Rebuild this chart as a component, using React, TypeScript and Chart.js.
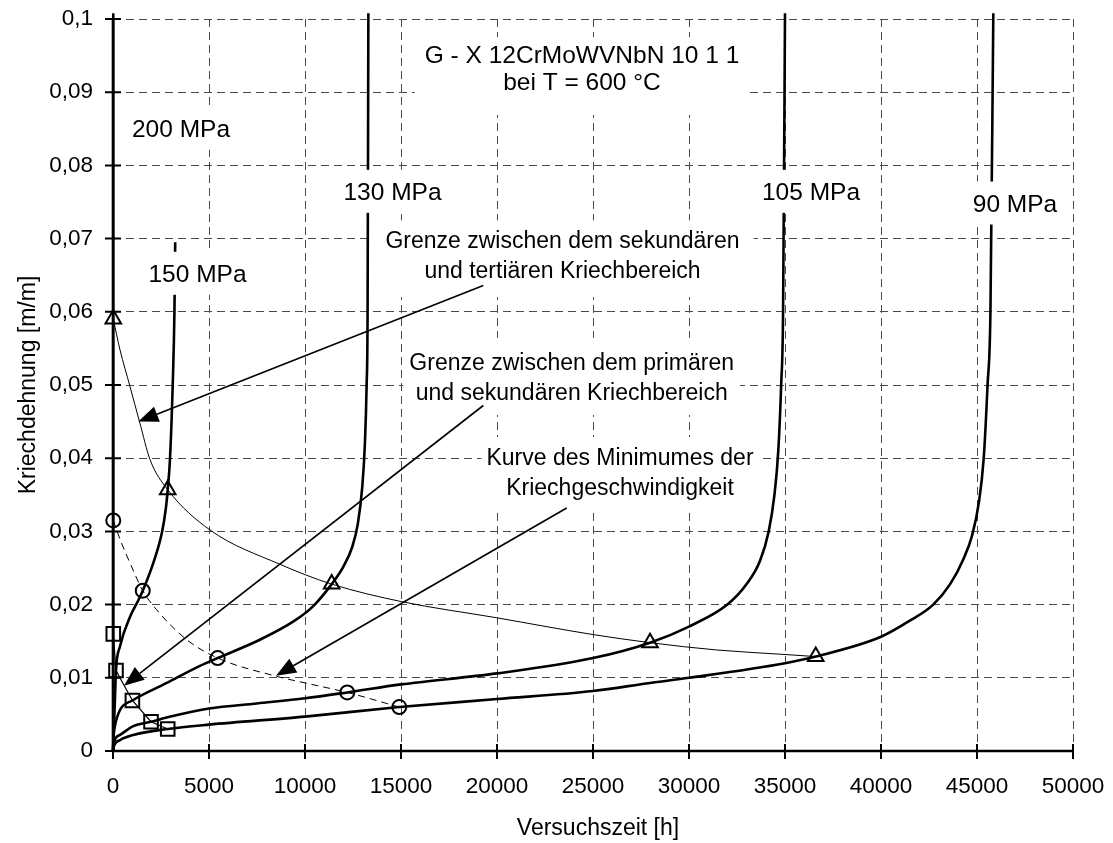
import { useEffect, useRef } from 'react';
import { Chart, registerables } from 'chart.js';

Chart.register(...registerables);

const FONT_FAMILY = '"Liberation Sans", Arial, Helvetica, sans-serif';

// ---- Axis ticks -------------------------------------------------------------
const timeTicks = [0, 5000, 10000, 15000, 20000, 25000, 30000, 35000, 40000, 45000, 50000];
const timeTickLabels = ['0', '5000', '10000', '15000', '20000', '25000', '30000', '35000', '40000', '45000', '50000'];
const strainTicks = [0, 0.01, 0.02, 0.03, 0.04, 0.05, 0.06, 0.07, 0.08, 0.09, 0.1];
const strainTickLabels = ['0', '0,01', '0,02', '0,03', '0,04', '0,05', '0,06', '0,07', '0,08', '0,09', '0,1'];

// ---- Creep curves: test time [h] vs. creep strain [m/m] ---------------------
const time200 = [0, 10, 15, 15, 15, 15];
const strain200 = [0, 0.007, 0.016, 0.0315, 0.059, 0.1008];

const time150 = [0, 50, 100, 156, 365, 900, 1320, 1550, 2100, 2560, 2760, 2850, 2970, 3110, 3200, 3240];
const strain150 = [0, 0.0034, 0.007, 0.011, 0.0143, 0.0184, 0.0206, 0.0219, 0.0257, 0.03, 0.0333, 0.0357, 0.04, 0.05, 0.06, 0.0695];

const time130 = [0, 30, 100, 365, 1010, 2800, 4500, 5450, 7650, 9400, 10430, 11390, 12000, 12450, 12750, 12980, 13120, 13210, 13260, 13300];
const strain130 = [0, 0.002, 0.0034, 0.0056, 0.0069, 0.0093, 0.0116, 0.0127, 0.0152, 0.0177, 0.0198, 0.0228, 0.0252, 0.0278, 0.031, 0.036, 0.042, 0.05, 0.06, 0.1008];

const time105 = [0, 50, 365, 1060, 1980, 3000, 5000, 7500, 10000, 12200, 15000, 20000, 25000, 27970, 30000, 32000, 33000, 33700, 34150, 34450, 34650, 34800, 34900, 35000];
const strain105 = [0, 0.0012, 0.0022, 0.0034, 0.004, 0.0047, 0.0058, 0.0065, 0.0072, 0.008, 0.0091, 0.0106, 0.0127, 0.0148, 0.017, 0.02, 0.0228, 0.026, 0.03, 0.035, 0.041, 0.05, 0.06, 0.1008];

const time90 = [0, 50, 365, 1060, 2850, 5000, 10000, 14910, 20000, 25000, 27970, 30000, 35000, 36600, 40000, 41500, 42720, 43600, 44290, 44750, 45100, 45350, 45550, 45700, 45850];
const strain90 = [0, 0.0007, 0.0015, 0.0022, 0.003, 0.0036, 0.0047, 0.006, 0.0071, 0.0082, 0.0093, 0.01, 0.012, 0.0129, 0.0156, 0.0178, 0.02, 0.0228, 0.0262, 0.0295, 0.034, 0.04, 0.05, 0.06, 0.1008];

// ---- Range boundaries ---------------------------------------------------------
// end of primary creep (squares)
const primaryEndTime = [15, 156, 1010, 1980, 2850];
const primaryEndStrain = [0.016, 0.011, 0.0069, 0.004, 0.003];

// minimum creep rate (circles)
const minRateTime = [15, 1550, 5450, 12200, 14910];
const minRateStrain = [0.0315, 0.0219, 0.0127, 0.008, 0.006];
const minRatePathTime = [15, 400, 950, 1550, 2270, 3840, 5450, 8520, 10000, 12200, 14910];
const minRatePathStrain = [0.0315, 0.0287, 0.0253, 0.0219, 0.0193, 0.0152, 0.0127, 0.0102, 0.0093, 0.008, 0.006];

// start of tertiary creep (triangles)
const tertiaryStartTime = [15, 2850, 11390, 27970, 36600];
const tertiaryStartStrain = [0.059, 0.0357, 0.0228, 0.0148, 0.0129];
const tertiaryPathTime = [15, 365, 885, 1400, 1930, 2850, 5050, 8700, 11390, 15040, 19980, 25020, 27970, 31440, 34900, 36600];
const tertiaryPathStrain = [0.059, 0.0548, 0.0498, 0.0448, 0.0398, 0.0357, 0.0302, 0.0255, 0.0228, 0.0204, 0.0182, 0.0159, 0.0148, 0.0138, 0.0132, 0.0129];

// ---- Text -------------------------------------------------------------------
const stressLabels = ['200 MPa', '150 MPa', '130 MPa', '105 MPa', '90 MPa'];
const titleLines = ['G - X 12CrMoWVNbN 10 1 1', 'bei T = 600 °C'];
const tertiaryNote = ['Grenze zwischen dem sekundären', 'und tertiären Kriechbereich'];
const primaryNote = ['Grenze zwischen dem primären', 'und sekundären Kriechbereich'];
const minRateNote = ['Kurve des Minimumes der', 'Kriechgeschwindigkeit'];
const xTitle = 'Versuchszeit [h]';
const yTitle = 'Kriechdehnung [m/m]';

// ---- Placement of text boxes and arrows (data coordinates + pixel padding) --
type TextBox = {
  lines: string[];
  t: number;
  e: number;
  size: number;
  gap: number;
  padX: number;
  padTop: number;
  padBottom: number;
};

const stressLabelAnchors: [number, number][] = [
  [3542, 0.0839],
  [4401, 0.0641],
  [14557, 0.0753],
  [36354, 0.0753],
  [46979, 0.0737],
];

const textBoxes: TextBox[] = [
  ...stressLabels.map((s, i) => ({
    lines: [s],
    t: stressLabelAnchors[i][0],
    e: stressLabelAnchors[i][1],
    size: 24.5,
    gap: 0,
    padX: 4,
    padTop: 30,
    padBottom: 13,
  })),
  { lines: titleLines, t: 24427, e: 0.09395, size: 24.5, gap: 26.7, padX: 10, padTop: 26, padBottom: 25 },
  { lines: tertiaryNote, t: 23411, e: 0.06867, size: 23, gap: 29.7, padX: 14, padTop: 28, padBottom: 19 },
  { lines: primaryNote, t: 23891, e: 0.05205, size: 23, gap: 30, padX: 6, padTop: 32, padBottom: 15 },
  { lines: minRateNote, t: 26406, e: 0.03907, size: 23, gap: 30, padX: 5, padTop: 28, padBottom: 15 },
];

// [fromTime, fromStrain, toTime, toStrain]
const arrows: [number, number, number, number][] = [
  [19286, 0.0636, 1318, 0.045],
  [19286, 0.0472, 573, 0.00892],
  [23630, 0.0332, 8490, 0.01029],
];

const zip = (xs: number[], ys: number[]) => xs.map((x, i) => ({ x, y: ys[i] }));

function drawArrow(ctx: CanvasRenderingContext2D, x1: number, y1: number, x2: number, y2: number) {
  const ang = Math.atan2(y2 - y1, x2 - x1);
  const headLen = 20;
  const headHalf = 8;
  const bx = x2 - headLen * Math.cos(ang);
  const by = y2 - headLen * Math.sin(ang);
  ctx.beginPath();
  ctx.moveTo(x1, y1);
  ctx.lineTo(bx, by);
  ctx.stroke();
  ctx.beginPath();
  ctx.moveTo(x2, y2);
  ctx.lineTo(bx + headHalf * Math.sin(ang), by - headHalf * Math.cos(ang));
  ctx.lineTo(bx - headHalf * Math.sin(ang), by + headHalf * Math.cos(ang));
  ctx.closePath();
  ctx.fill();
}

const overlayPlugin = {
  id: 'creepOverlay',
  afterDatasetsDraw(chart: any) {
    const { ctx, chartArea } = chart;
    const xs = chart.scales.x;
    const ys = chart.scales.y;
    ctx.save();

    // white text boxes with labels
    for (const box of textBoxes) {
      ctx.font = `${box.size}px ${FONT_FAMILY}`;
      const cx = xs.getPixelForValue(box.t);
      const by = ys.getPixelForValue(box.e);
      const w = Math.max(...box.lines.map((s) => ctx.measureText(s).width));
      const top = by - box.padTop;
      const bottom = by + (box.lines.length - 1) * box.gap + box.padBottom;
      ctx.fillStyle = '#fff';
      ctx.fillRect(cx - w / 2 - box.padX, top, w + 2 * box.padX, bottom - top);
      ctx.fillStyle = '#000';
      ctx.textAlign = 'center';
      ctx.textBaseline = 'alphabetic';
      box.lines.forEach((s, i) => ctx.fillText(s, cx, by + i * box.gap));
    }

    // pointer arrows
    ctx.strokeStyle = '#000';
    ctx.fillStyle = '#000';
    ctx.lineWidth = 1.6;
    for (const [t1, e1, t2, e2] of arrows) {
      drawArrow(ctx, xs.getPixelForValue(t1), ys.getPixelForValue(e1), xs.getPixelForValue(t2), ys.getPixelForValue(e2));
    }

    // axes with tick marks crossing them
    const { left, right, top, bottom } = chartArea;
    ctx.lineWidth = 2.6;
    ctx.lineCap = 'butt';
    ctx.beginPath();
    ctx.moveTo(left, bottom + 1.3);
    ctx.lineTo(left, top);
    ctx.moveTo(left - 1.3, bottom);
    ctx.lineTo(right, bottom);
    ctx.stroke();
    ctx.lineWidth = 2;
    ctx.beginPath();
    for (const v of strainTicks) {
      const py = ys.getPixelForValue(v);
      ctx.moveTo(left - 8, py);
      ctx.lineTo(left + 8, py);
    }
    for (const v of timeTicks) {
      const px = xs.getPixelForValue(v);
      ctx.moveTo(px, bottom - 7);
      ctx.lineTo(px, bottom + 8);
    }
    ctx.stroke();

    // axis titles
    ctx.fillStyle = '#000';
    ctx.font = `23px ${FONT_FAMILY}`;
    ctx.textAlign = 'center';
    ctx.textBaseline = 'alphabetic';
    ctx.fillText(xTitle, (left + right) / 2 + 5, 835);
    ctx.translate(35, (top + bottom) / 2);
    ctx.rotate(-Math.PI / 2);
    ctx.fillText(yTitle, 0, 0);
    ctx.restore();
  },
};

export default function App() {
  const canvasRef = useRef<HTMLCanvasElement>(null);

  useEffect(() => {
    const canvas = canvasRef.current;
    if (!canvas) return;

    const creep = (label: string, t: number[], e: number[], smooth = true) => ({
      label,
      data: zip(t, e),
      borderColor: '#000',
      borderWidth: 2.6,
      pointRadius: 0,
      fill: false,
      clip: false as const,
      tension: 0,
      cubicInterpolationMode: smooth ? ('monotone' as const) : ('default' as const),
      borderJoinStyle: 'round' as const,
    });

    const markers = (label: string, t: number[], e: number[], style: string, radius: number) => ({
      label,
      data: zip(t, e),
      showLine: false,
      pointStyle: style,
      pointRadius: radius,
      pointBorderWidth: 2,
      pointBorderColor: '#000',
      pointBackgroundColor: 'rgba(0,0,0,0)',
      clip: false as const,
    });

    const tickFont = { family: FONT_FAMILY, size: 22.5 };
    // invisible tick marks keep the labels away from the axes
    const gridX = { color: '#4a4a4a', lineWidth: 1, drawTicks: true, tickLength: 22, tickColor: 'rgba(0,0,0,0)' };
    const gridY = { color: '#4a4a4a', lineWidth: 1, drawTicks: true, tickLength: 20, tickColor: 'rgba(0,0,0,0)' };

    const chart = new Chart(canvas, {
      type: 'line',
      data: {
        datasets: [
          creep('200 MPa', time200, strain200, false),
          creep('150 MPa', time150, strain150),
          creep('130 MPa', time130, strain130),
          creep('105 MPa', time105, strain105),
          creep('90 MPa', time90, strain90),
          {
            label: 'tertiary boundary',
            data: zip(tertiaryPathTime, tertiaryPathStrain),
            borderColor: '#000',
            borderWidth: 1,
            pointRadius: 0,
            cubicInterpolationMode: 'monotone',
          },
          {
            label: 'minimum creep rate',
            data: zip(minRatePathTime, minRatePathStrain),
            borderColor: '#000',
            borderWidth: 1,
            borderDash: [7, 5],
            pointRadius: 0,
            cubicInterpolationMode: 'monotone',
          },
          {
            label: 'primary boundary',
            data: zip(primaryEndTime, primaryEndStrain),
            borderColor: '#000',
            borderWidth: 1.2,
            pointRadius: 0,
            tension: 0,
          },
          markers('tertiary start', tertiaryStartTime, tertiaryStartStrain, 'triangle', 9),
          markers('minimum rate', minRateTime, minRateStrain, 'circle', 7),
          markers('primary end', primaryEndTime, primaryEndStrain, 'rect', 9.6),
        ] as any,
      },
      options: {
        responsive: false,
        animation: false,
        events: [],
        layout: { autoPadding: false, padding: { top: 19, right: 40, bottom: 0, left: 0 } },
        plugins: {
          legend: { display: false },
          tooltip: { enabled: false },
        },
        scales: {
          x: {
            type: 'linear',
            min: 0,
            max: 50000,
            afterBuildTicks: (scale: any) => {
              scale.ticks = timeTicks.map((value) => ({ value }));
            },
            afterFit: (scale: any) => {
              scale.height = 92;
            },
            ticks: {
              autoSkip: false,
              maxRotation: 0,
              color: '#000',
              font: tickFont,
              padding: 0,
              callback: (_v: any, i: number) => timeTickLabels[i],
            },
            grid: gridX,
            border: { display: false, dash: [8, 5] },
          },
          y: {
            type: 'linear',
            min: 0,
            max: 0.1,
            afterBuildTicks: (scale: any) => {
              scale.ticks = strainTicks.map((value) => ({ value }));
            },
            afterFit: (scale: any) => {
              scale.width = 113;
            },
            ticks: {
              autoSkip: false,
              color: '#000',
              font: tickFont,
              padding: 0,
              callback: (_v: any, i: number) => strainTickLabels[i],
            },
            grid: gridY,
            border: { display: false, dash: [8, 5] },
          },
        },
      },
      plugins: [overlayPlugin],
    });

    return () => chart.destroy();
  }, []);

  return (
    <div style={{ position: 'fixed', left: 0, top: 0, width: 1113, height: 843, background: '#fff' }}>
      <canvas ref={canvasRef} width={1113} height={843} style={{ display: 'block' }} />
    </div>
  );
}
